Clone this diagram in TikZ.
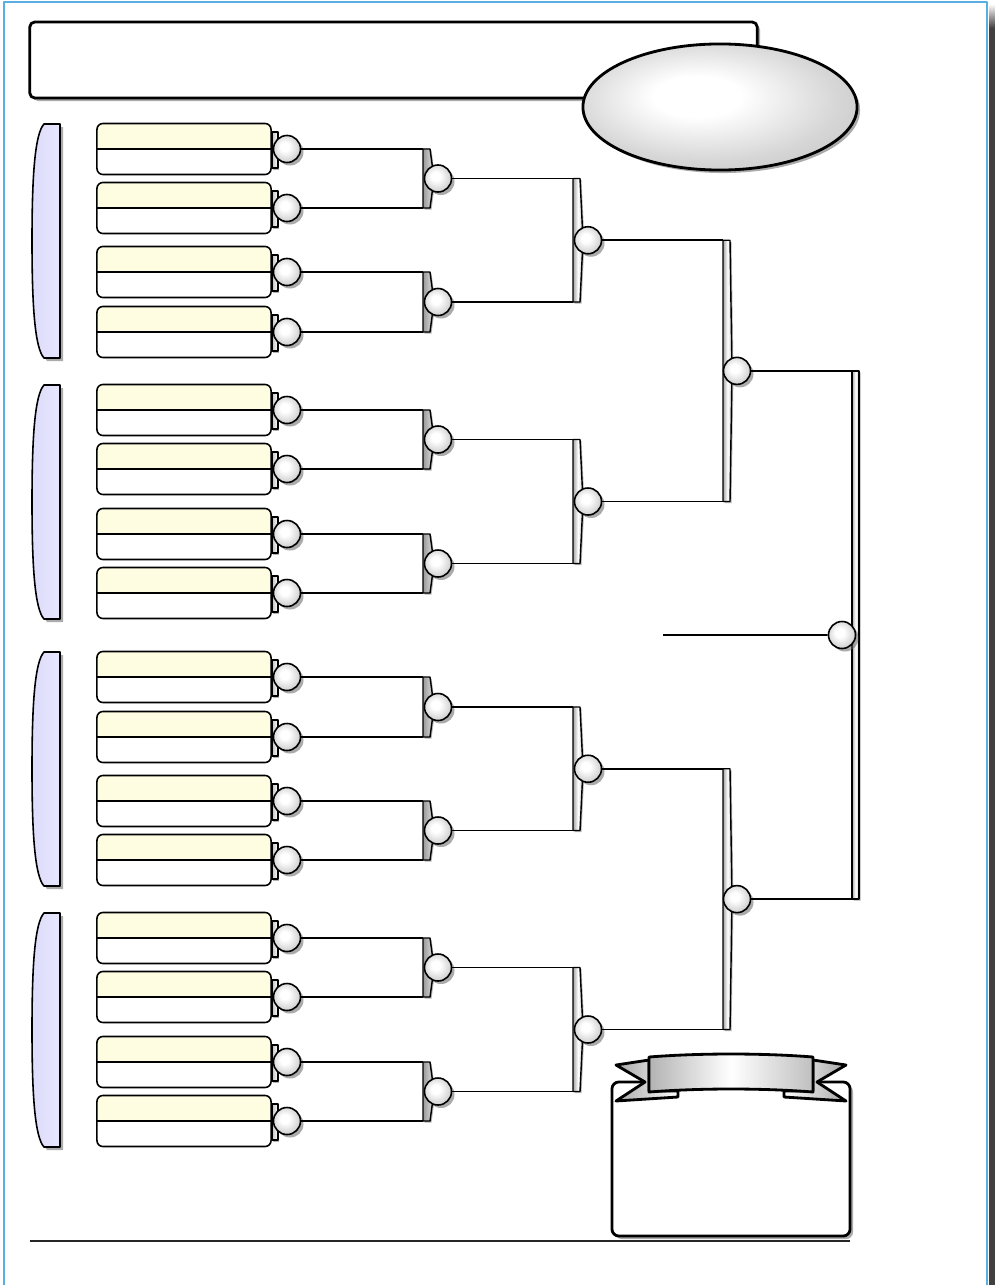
\documentclass[tikz,border=0pt]{standalone}
\usetikzlibrary{calc,shapes.geometric,shadows}
\definecolor{teamyellow}{HTML}{FFFDE1}
\definecolor{grouplav}{HTML}{DCDCFC}
\definecolor{pageblue}{HTML}{5AAEE0}
\pgfdeclareradialshading{glassy}{\pgfpoint{-5bp}{5bp}}{color(0bp)=(white);color(8bp)=(white);color(24bp)=(black!16);color(50bp)=(black!32)}
% bar of a bracket: [look] top, bottom, winner node, bulge, circle offset
\newcommand{\bracketbar}[6][]{%
  \filldraw[barfill,#1] (#2) -- ++(7,0) -- ($(#2)!0.5!(#3)+(#5,0)$) -- ($(#3)+(7,0)$) -- (#3) -- cycle;
  \draw ($(#2)!0.5!(#3)+(#6,0)$) node[seed] (#4) {};
}
\begin{document}
\begin{tikzpicture}[x=0.01cm,y=-0.01cm,line join=round,line width=0.45pt,
shadowed/.style={drop shadow={shadow xshift=0.03cm,shadow yshift=-0.03cm,fill=black!60,opacity=0.55}},
smallshadow/.style={drop shadow={shadow xshift=0.015cm,shadow yshift=-0.015cm,fill=black!60,opacity=0.5}},
titlebox/.style={draw,rectangle,rounded corners=0.05cm,minimum width=7.27cm,minimum height=0.76cm,line width=0.8pt,fill=white,shadowed},
logo/.style={draw,ellipse,minimum width=2.74cm,minimum height=1.26cm,line width=0.8pt,shading=glassy,shadowed},
prizebox/.style={draw,rectangle,rounded corners=0.07cm,minimum width=2.38cm,minimum height=1.54cm,line width=0.8pt,fill=white,shadowed},
teambox/.style={draw,rectangle,rounded corners=0.06cm,minimum width=1.74cm,minimum height=0.51cm,inner sep=0pt,fill=white,
  path picture={\fill[teamyellow] (path picture bounding box.north west) rectangle (path picture bounding box.east);
    \draw (path picture bounding box.west) -- (path picture bounding box.east);}},
tab/.style={draw,rectangle,minimum width=0.06cm,minimum height=0.36cm,inner sep=0pt,left color=black!25,right color=white,smallshadow},
seed/.style={draw,circle,minimum size=0.27cm,inner sep=0pt,shading=glassy,shadowed},
barfill/.style={draw,line width=0.4pt,left color=black!35,right color=black!20,middle color=white,smallshadow},
darkbar/.style={left color=black!40,right color=black!15,middle color=black!25},
grouppill/.style={draw,line width=0.45pt,left color=grouplav,right color=grouplav!70,shadowed},
ribbon/.style={draw,line width=0.8pt,left color=black!30,right color=black!25,middle color=white}]
\useasboundingbox (0,0) rectangle (995,1285);
% page frame
\draw[pageblue,line width=0.5pt] (4,1285) -- (4,2) -- (987,2) -- (987,1285);
\fill[black!75] (989,28) rectangle (995,1285);
\shade[top color=white,bottom color=black!75] (989,4) rectangle (995,28);
% header
\draw (393.5,60) node[titlebox] (title) {};
\draw (720,107) node[logo] (logo) {};
% group pills
\foreach \t/\b in {124/358,385/619,652/886,913/1147}{
  \pgfmathsetmacro\m{(\t+\b)/2}
  \filldraw[grouppill] (60,\t) -- (44,\t) .. controls (35,{\t+10}) and (32,{\t+50}) .. (32,\m)
    .. controls (32,{\b-50}) and (35,{\b-10}) .. (44,\b) -- (60,\b) -- cycle;
}
% teams
\foreach \y [count=\i] in {149,208,272,332,410,469,534,593,677,737,801,860,938,997,1062,1121}{
  \draw (184,\y) node[teambox] (team\i) {};
  \draw (team\i.east) ++(3,1) node[tab] (tab\i) {};
  \draw (287,\y) node[seed] (seed\i) {};
}
\coordinate (col1) at (423,0);
\coordinate (col2) at (573,0);
\coordinate (col3) at (723,0);
\coordinate (col4) at (852,0);
% round 1
\foreach \j in {1,...,8}{
  \pgfmathtruncatemacro\a{2*\j-1}
  \pgfmathtruncatemacro\b{2*\j}
  \coordinate (rt) at (col1 |- seed\a);
  \coordinate (rb) at (col1 |- seed\b);
  \draw (seed\a.east) -- (rt) (seed\b.east) -- (rb);
  \bracketbar[darkbar]{rt}{rb}{quart\j}{11}{15}
}
% round 2
\foreach \j in {1,...,4}{
  \pgfmathtruncatemacro\a{2*\j-1}
  \pgfmathtruncatemacro\b{2*\j}
  \coordinate (rt) at (col2 |- quart\a);
  \coordinate (rb) at (col2 |- quart\b);
  \draw (quart\a.east) -- (rt) (quart\b.east) -- (rb);
  \bracketbar{rt}{rb}{semi\j}{10}{15}
}
% round 3
\foreach \j in {1,2}{
  \pgfmathtruncatemacro\a{2*\j-1}
  \pgfmathtruncatemacro\b{2*\j}
  \coordinate (rt) at (col3 |- semi\a);
  \coordinate (rb) at (col3 |- semi\b);
  \draw (semi\a.east) -- (rt) (semi\b.east) -- (rb);
  \bracketbar{rt}{rb}{fin\j}{9}{14}
}
% final
\coordinate (rt) at (col4 |- fin1);
\coordinate (rb) at (col4 |- fin2);
\draw (fin1.east) -- (rt) (fin2.east) -- (rb);
\bracketbar{rt}{rb}{champ}{7}{-10}
\coordinate (champline) at (663,635);
\draw (champline) -- (champ.west);
% prize box and ribbon
\draw (731,1159) node[prizebox] (prize) {};
\filldraw[ribbon,left color=black!35,right color=white] (649,1060) -- (616,1065) -- (645,1082) -- (616,1101) -- (678,1097) -- (678,1091) -- (649,1091) -- cycle;
\filldraw[ribbon,left color=white,right color=black!35] (813,1060) -- (846,1065) -- (817,1082) -- (846,1101) -- (784,1097) -- (784,1091) -- (813,1091) -- cycle;
\filldraw[ribbon] (649,1057) .. controls (700,1053) and (762,1053) .. (813,1057) -- (813,1092) .. controls (762,1088) and (700,1088) .. (649,1092) -- cycle;
% bottom rule
\draw[line width=0.7pt,black!85] (30,1241) -- (850,1241);
\end{tikzpicture}
\end{document}
